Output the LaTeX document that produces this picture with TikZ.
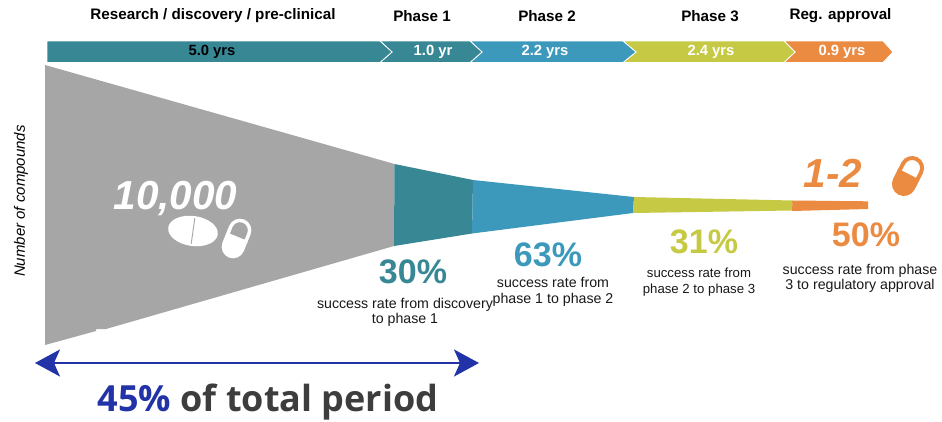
\documentclass[tikz,border=0pt]{standalone}
\usepackage{fontspec}
\setmainfont{Liberation Sans}
\newfontfamily\headfont{Open Sans}
\usetikzlibrary{arrows.meta}
\definecolor{cteal}{HTML}{378795}
\definecolor{cblue}{HTML}{3C99BC}
\definecolor{cyellow}{HTML}{C5C944}
\definecolor{corange}{HTML}{EB8B42}
\definecolor{cgrey}{HTML}{A6A6A6}
\definecolor{cnavy}{HTML}{2233A8}
\definecolor{cdark}{HTML}{3D3D3D}
% dome-ended half of a pill: #1 half width, #2 straight part, #3 = 0.55*#1, #4 = lower edge
\newcommand\pilltop[4]{(-#1,#4) -- (-#1,-#2) .. controls (-#1,-#2-#3) and (-#3,-#2-#1) .. (0,-#2-#1) .. controls (#3,-#2-#1) and (#1,-#2-#3) .. (#1,-#2) -- (#1,#4) -- cycle}
\newcommand\pillbottom[4]{(-#1,#4) -- (-#1,#2) .. controls (-#1,#2+#3) and (-#3,#2+#1) .. (0,#2+#1) .. controls (#3,#2+#1) and (#1,#2+#3) .. (#1,#2) -- (#1,#4) -- cycle}
\tikzset{
  x=1pt,y=-1pt,
  phase/.style={font=\bfseries\fontsize{15.2}{17}\selectfont,text=black,inner sep=0pt},
  yrs/.style={font=\bfseries\fontsize{14.8}{17}\selectfont,text=white,inner sep=0pt},
  seg/.style={draw=white,line width=0.8pt,line join=miter},
  pct/.style={font=\bfseries\fontsize{34}{36}\selectfont,inner sep=0pt},
  rate/.style={font=\fontsize{14.2}{15.6}\selectfont,align=center,inner sep=0pt,text=black!90},
  big/.style={font=\bfseries\itshape\fontsize{40.5}{42}\selectfont,inner sep=0pt}
}
\begin{document}
\begin{tikzpicture}
\useasboundingbox (0,0) rectangle (942,421);
\fill[white] (0,0) rectangle (942,421);
% top bar
\fill[seg,fill=corange] (784,41) -- (883,41) -- (893,52) -- (883,62.5) -- (784,62.5) -- (795,52) -- cycle;
\fill[seg,fill=cyellow] (623,41) -- (784,41) -- (795,52) -- (784,62.5) -- (623,62.5) -- (636,52) -- cycle;
\fill[seg,fill=cblue] (470,41) -- (623,41) -- (636,52) -- (623,62.5) -- (470,62.5) -- (482,52) -- cycle;
\fill[seg,fill=cteal] (380,41) -- (470,41) -- (482,52) -- (470,62.5) -- (380,62.5) -- (392,52) -- cycle;
\fill[seg,fill=cteal] (47,41) -- (380,41) -- (392,52) -- (380,62.5) -- (47,62.5) -- cycle;
% funnel
\fill[cgrey] (45,65) -- (394.5,164) -- (394,246) -- (106,329) -- (96,329) -- (96,331) -- (45,345) -- cycle;
\fill[cteal] (394.5,164) -- (473,180) -- (472,233.5) -- (394,246) -- cycle;
\fill[cblue] (473,180) -- (634,197) -- (633,213) -- (472,233.5) -- cycle;
\fill[cyellow] (634,197) -- (793,200.5) -- (792,210.5) -- (633,213) -- cycle;
\fill[corange] (792.5,200.5) -- (868,201.3) -- (868,209) -- (792,211) -- cycle;
% headings
\node[phase] (h0) at (213,16) {Research / discovery / pre-clinical};
\node[phase] (h1) at (422,16) {Phase 1};
\node[phase] (h2) at (547,16) {Phase 2};
\node[phase] (h3) at (710,16) {Phase 3};
\node[phase] (h4) at (840.5,16) {Reg. approval};
\node[yrs,text=black] (y0) at (212,52) {5.0 yrs};
\node[yrs] (y1) at (433,52) {1.0 yr};
\node[yrs] (y2) at (545,52) {2.2 yrs};
\node[yrs] (y3) at (711,52) {2.4 yrs};
\node[yrs] (y4) at (842,52) {0.9 yrs};
% axis label
\node[rotate=90,font=\itshape\fontsize{15}{17}\selectfont,inner sep=0pt] (ylab) at (21,201) {Number of compounds};
% big numbers
\node[big,text=white] (n0) at (175.5,198) {10,000};
\node[big,text=corange] (n1) at (833,173) {1-2};
% tablet
\begin{scope}[shift={(193,231)},rotate=-8]
\fill[white] (0,0) ellipse[x radius=25,y radius=15];
\draw[cgrey,line width=0.9pt] (0,-13) -- (0,13);
\end{scope}
% white capsule
\begin{scope}[shift={(236.5,238.5)},rotate=-22]
\fill[white,even odd rule] \pilltop{11.5}{9}{6.3}{0} \pilltop{8}{9}{4.4}{-2};
\fill[white] \pillbottom{11.5}{9}{6.3}{-1};
\end{scope}
% orange capsule
\begin{scope}[shift={(908,176)},rotate=-27]
\fill[corange,even odd rule] \pilltop{12}{9}{6.6}{0} \pilltop{8}{9}{4.4}{-2};
\fill[corange] \pillbottom{12}{9}{6.6}{-1};
\end{scope}
% rates
\node[pct,text=cteal] (p0) at (413,272) {30\%};
\node[rate] (r0) at (405,312.5) {success rate from discovery\\to phase 1};
\node[pct,text=cblue] (p1) at (548,255) {63\%};
\node[rate] (r1) at (553,292) {success rate from\\phase 1 to phase 2};
\node[pct,text=cyellow] (p2) at (704,242) {31\%};
\node[rate,font=\fontsize{13.2}{15.6}\selectfont] (r2) at (699,282) {success rate from\\phase 2 to phase 3};
\node[pct,text=corange] (p3) at (866,235) {50\%};
\node[rate] (r3) at (860,278.5) {success rate from phase\\3 to regulatory approval};
% span arrow
\coordinate (a0) at (35,363);
\coordinate (a1) at (479,363);
\draw[cnavy,line width=2pt,{Stealth[length=25pt,width=27pt,inset=6pt]}-{Stealth[length=25pt,width=27pt,inset=6pt]}] (a0) -- (a1);
\node[font=\headfont\bfseries\fontsize{36}{40}\selectfont,text=cdark,inner sep=0pt] (tot) at (268,402.5) {\textcolor{cnavy}{45\%} of total period};
\end{tikzpicture}
\end{document}
